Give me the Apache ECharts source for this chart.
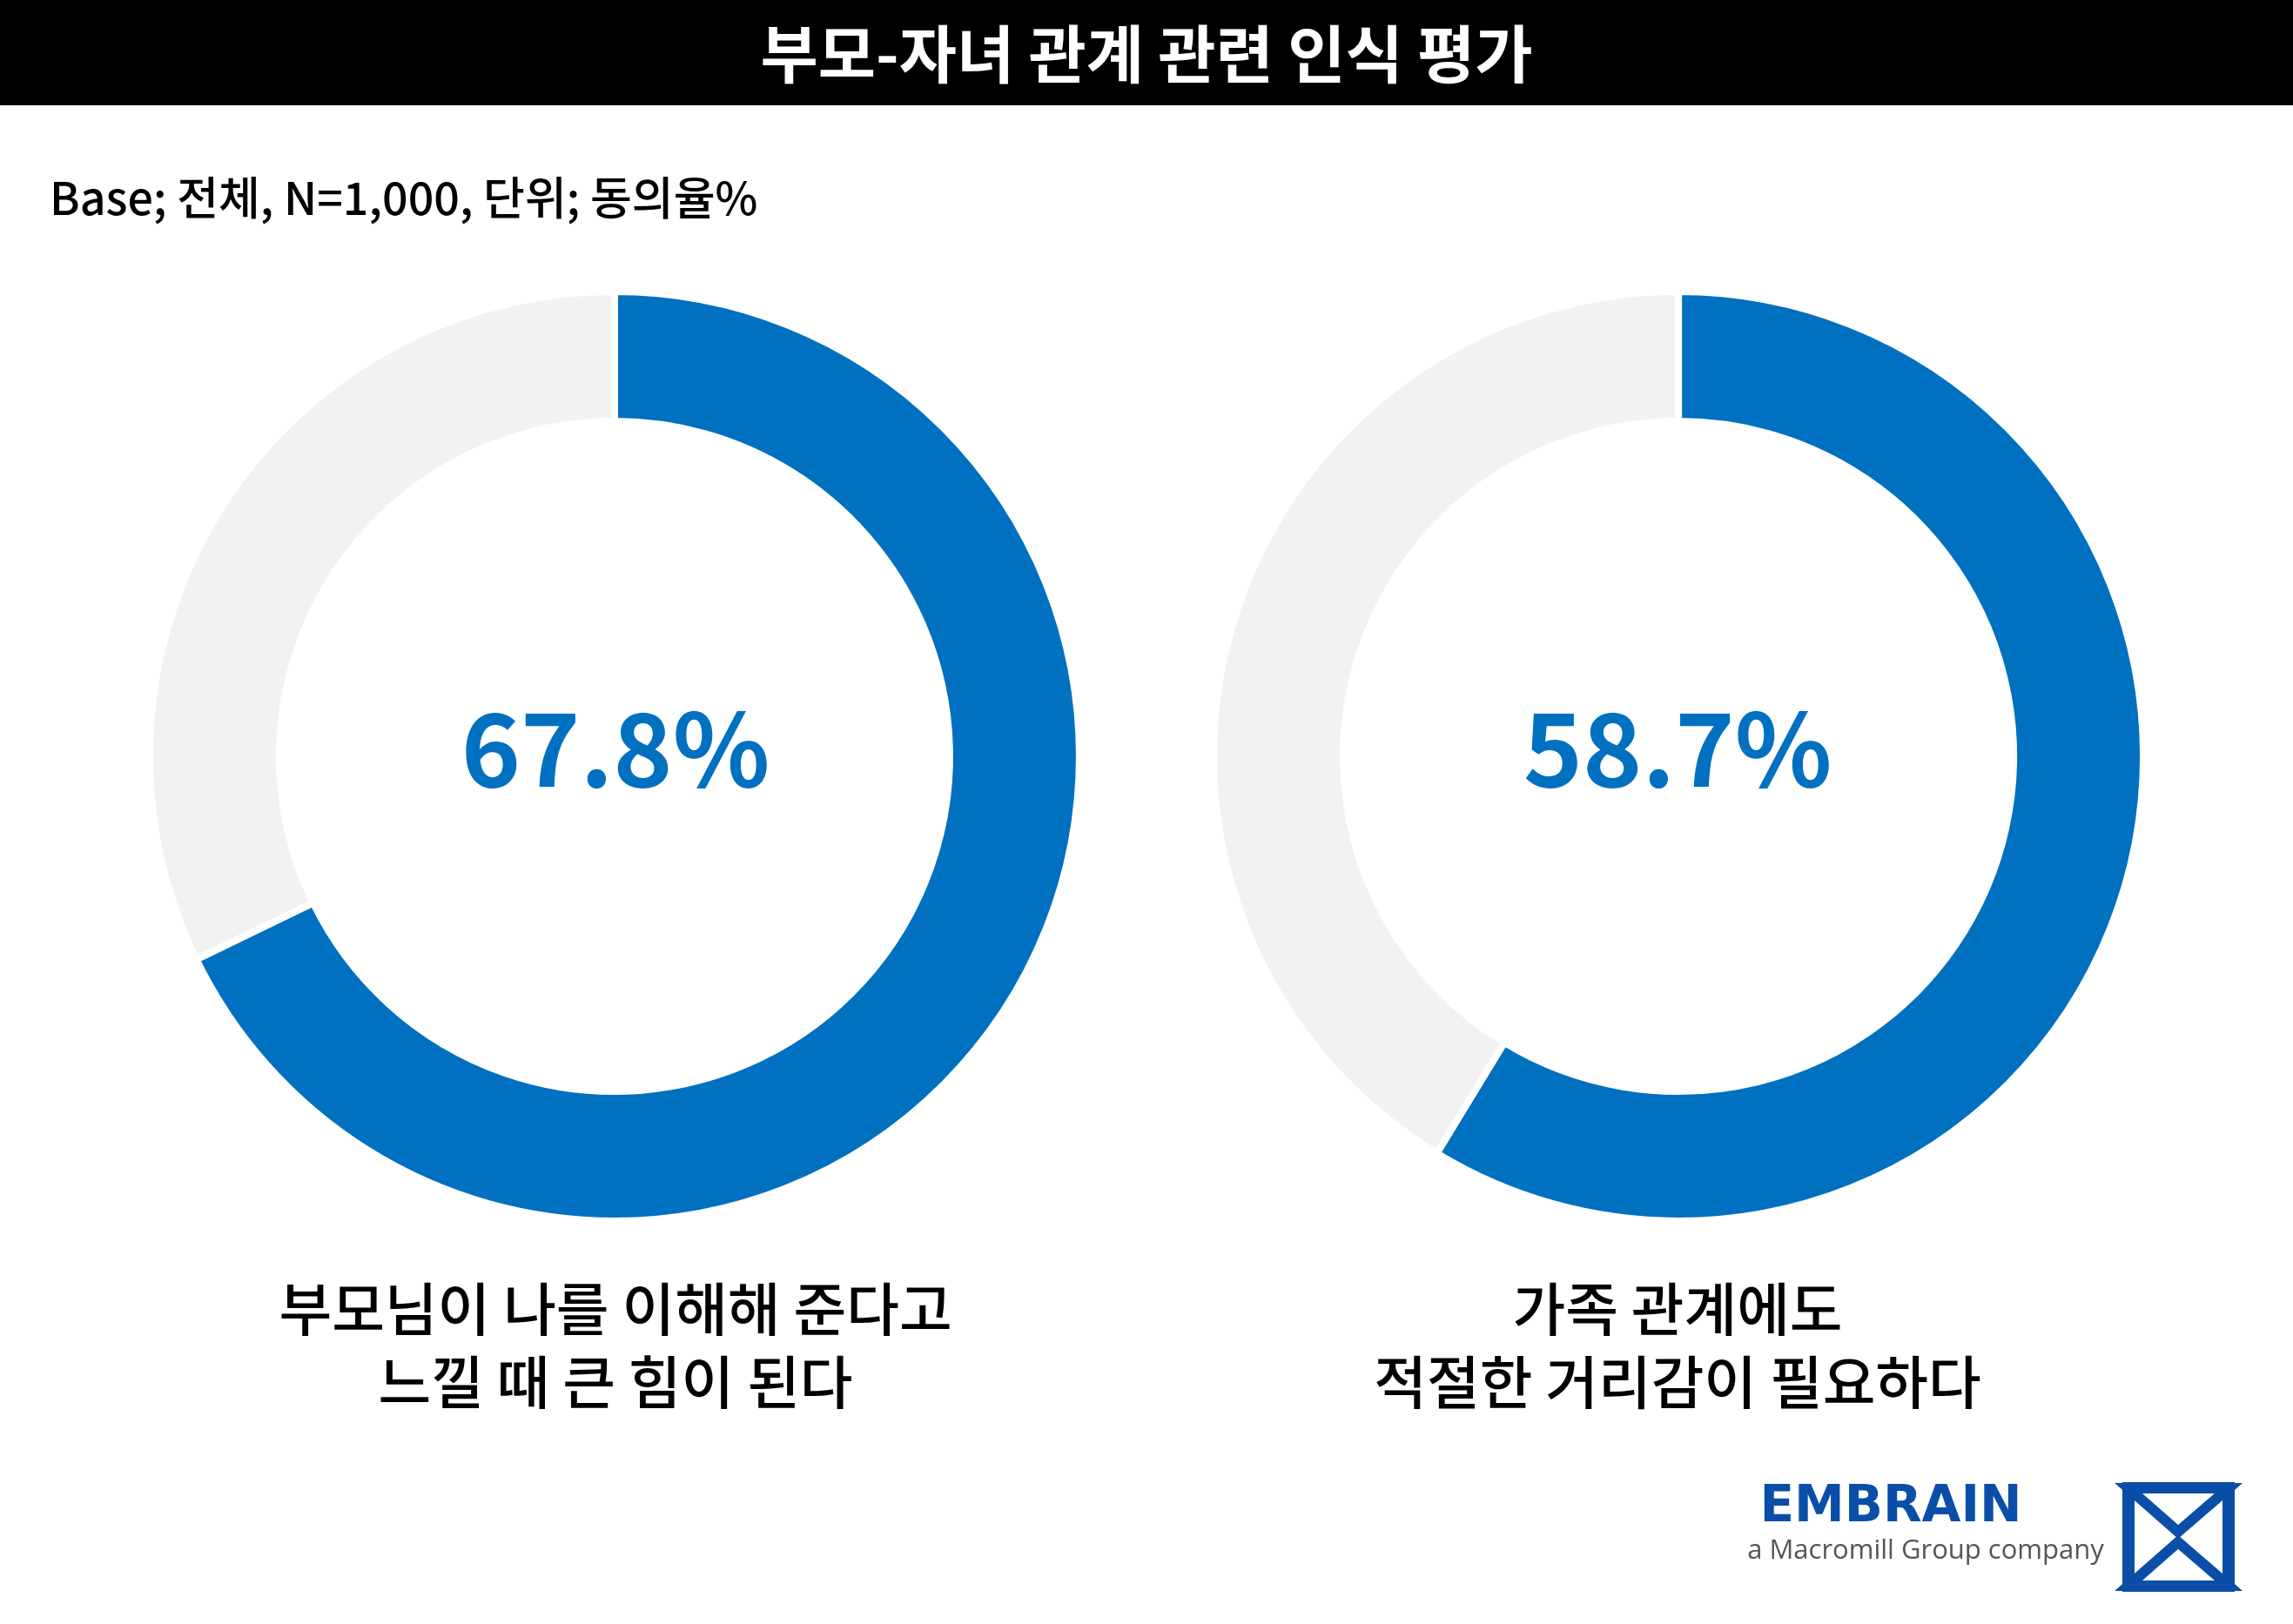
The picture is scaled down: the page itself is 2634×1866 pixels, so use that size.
<!DOCTYPE html>
<html><head><meta charset="utf-8">
<script src="https://cdn.jsdelivr.net/npm/echarts@6/dist/echarts.min.js"></script>
<style>html,body{margin:0;padding:0;background:#fff}#c{width:2634px;height:1866px}</style>
</head><body><div id="c"></div>
<script>
const title = '부모-자녀 관계 관련 인식 평가';
const subtitle = 'Base; 전체, N=1,000, 단위; 동의율%';
const labels = ['부모님이 나를 이해해 준다고\n느낄 때 큰 힘이 된다', '가족 관계에도\n적절한 거리감이 필요하다'];
const agree = [67.8, 58.7];
const centersX = ['26.8%', '73.2%'];
const font = '"Noto Sans CJK KR", sans-serif';
const chart = echarts.init(document.getElementById('c'));
const series = agree.map((v, i) => ({
  type: 'pie', center: [centersX[i], 869], radius: [385, 534],
  startAngle: 90, clockwise: true, silent: true, label: {show: false},
  itemStyle: {borderColor: '#fff', borderWidth: 8},
  data: [{value: v, itemStyle: {color: '#0070c0'}}, {value: +(100 - v).toFixed(1), itemStyle: {color: '#f2f2f2'}}]
}));
const graphics = [
  {type: 'rect', shape: {x: 0, y: 0, width: 2634, height: 121}, style: {fill: '#000'}},
  {type: 'text', x: 1317, y: 62, style: {text: title, fill: '#fff', font: 'bold 72px ' + font, textAlign: 'center', textVerticalAlign: 'middle'}},
  {type: 'text', x: 57, y: 227, style: {text: subtitle, fill: '#000', font: '500 52px ' + font, textVerticalAlign: 'middle'}},
  {type: 'text', x: 2172, y: 1733, style: {text: 'EMBRAIN', fill: '#0a4ea8', font: 'bold 58px "DejaVu Sans", sans-serif', textAlign: 'center', textVerticalAlign: 'middle'}},
  {type: 'text', x: 2212, y: 1782, style: {text: 'a Macromill Group company', fill: '#555', font: '31px "Open Sans", sans-serif', textAlign: 'center', textVerticalAlign: 'middle'}},
  {type: 'rect', shape: {x: 2445, y: 1710, width: 115, height: 112}, style: {fill: 'none', stroke: '#0a4ea8', lineWidth: 14}},
  {type: 'polygon', shape: {points: [[2445,1710],[2502,1760],[2560,1710]]}, style: {fill: '#fff', stroke: '#0a4ea8', lineWidth: 12}},
  {type: 'polygon', shape: {points: [[2445,1822],[2502,1772],[2560,1822]]}, style: {fill: '#fff', stroke: '#0a4ea8', lineWidth: 12}}
];
agree.forEach((v, i) => {
  const x = i === 0 ? 707 : 1927;
  graphics.push({type: 'text', x: x, y: 860, style: {text: v.toFixed(1) + '%', fill: '#0070c0', font: 'bold 116px ' + font, textAlign: 'center', textVerticalAlign: 'middle'}});
  graphics.push({type: 'text', x: x, y: 1546, style: {text: labels[i], fill: '#000', font: '500 66px ' + font, lineHeight: 84, textAlign: 'center', textVerticalAlign: 'middle'}});
});
chart.setOption({animation: false, series: series, graphic: graphics});
</script></body></html>
